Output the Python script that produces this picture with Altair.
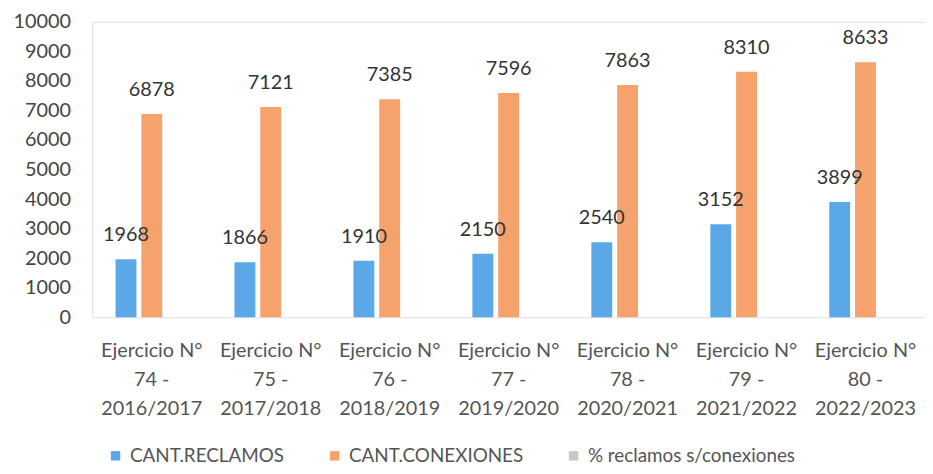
import altair as alt
import pandas as pd

categories = [
    "Ejercicio N°|74 -|2016/2017",
    "Ejercicio N°|75 -|2017/2018",
    "Ejercicio N°|76 -|2018/2019",
    "Ejercicio N°|77 -|2019/2020",
    "Ejercicio N°|78 -|2020/2021",
    "Ejercicio N°|79 -|2021/2022",
    "Ejercicio N°|80 -|2022/2023",
]
series = ["CANT.RECLAMOS", "CANT.CONEXIONES", "% reclamos s/conexiones"]
reclamos = [1968, 1866, 1910, 2150, 2540, 3152, 3899]
conexiones = [6878, 7121, 7385, 7596, 7863, 8310, 8633]
porcentaje = [0.29, 0.26, 0.26, 0.28, 0.32, 0.38, 0.45]
colors = ["#5aa8e8", "#f5a26c", "#c8c8c8"]

rows = []
for i, c in enumerate(categories):
    rows.append({"cat": c, "series": series[0], "value": reclamos[i], "lbl": str(reclamos[i])})
    rows.append({"cat": c, "series": series[1], "value": conexiones[i], "lbl": str(conexiones[i])})
    rows.append({"cat": c, "series": series[2], "value": porcentaje[i], "lbl": ""})
df = pd.DataFrame(rows)

FONT = "Lato"
FS = 20

x = alt.X(
    "cat:N",
    sort=categories,
    title=None,
    scale=alt.Scale(paddingInner=0.3475, paddingOuter=0.174),
    axis=alt.Axis(
        labelExpr="split(datum.label, '|')",
        labelAngle=0,
        labelFont=FONT,
        labelFontSize=FS,
        labelColor="#555555",
        labelLineHeight=29,
        labelPadding=24,
        labelOverlap=False,
        labelLimit=200,
        domain=False,
        ticks=False,
    ),
)
xo = alt.XOffset(
    "series:N",
    sort=series,
    scale=alt.Scale(paddingInner=0.19, paddingOuter=0.1),
)
y = alt.Y(
    "value:Q",
    title=None,
    scale=alt.Scale(domain=[0, 10000], nice=False),
    axis=alt.Axis(
        values=list(range(0, 10001, 1000)),
        format="d",
        labelFont=FONT,
        labelFontSize=FS,
        labelColor="#444444",
        labelPadding=22,
        grid=False,
        domain=False,
        ticks=False,
    ),
)
color = alt.Color(
    "series:N",
    sort=series,
    scale=alt.Scale(domain=series, range=colors),
    legend=alt.Legend(
        title=None,
        orient="none",
        direction="horizontal",
        legendX=14,
        legendY=428,
        symbolType="square",
        symbolSize=90,
        symbolStrokeWidth=0,
        labelFont=FONT,
        labelFontSize=19,
        labelColor="#555555",
        columnPadding=41,
        labelOffset=5,
        labelLimit=400,
    ),
)

bars = alt.Chart(df).mark_bar().encode(x=x, xOffset=xo, y=y, color=color)
texts = (
    alt.Chart(df)
    .mark_text(baseline="bottom", dy=-14, font=FONT, fontSize=FS, color="#333333")
    .encode(x=x, xOffset=xo, y=y, text="lbl:N")
)

chart = (
    alt.layer(bars, texts)
    .properties(
        width=840,
        height=298,
        autosize=alt.AutoSizeParams(type="none"),
        padding={"left": 85, "top": 12, "right": 0, "bottom": 148},
    )
    .configure_view(stroke=None)
    .configure(background="white")
)

chart.save("out.html", embed_options={"renderer": "svg", "actions": False})
